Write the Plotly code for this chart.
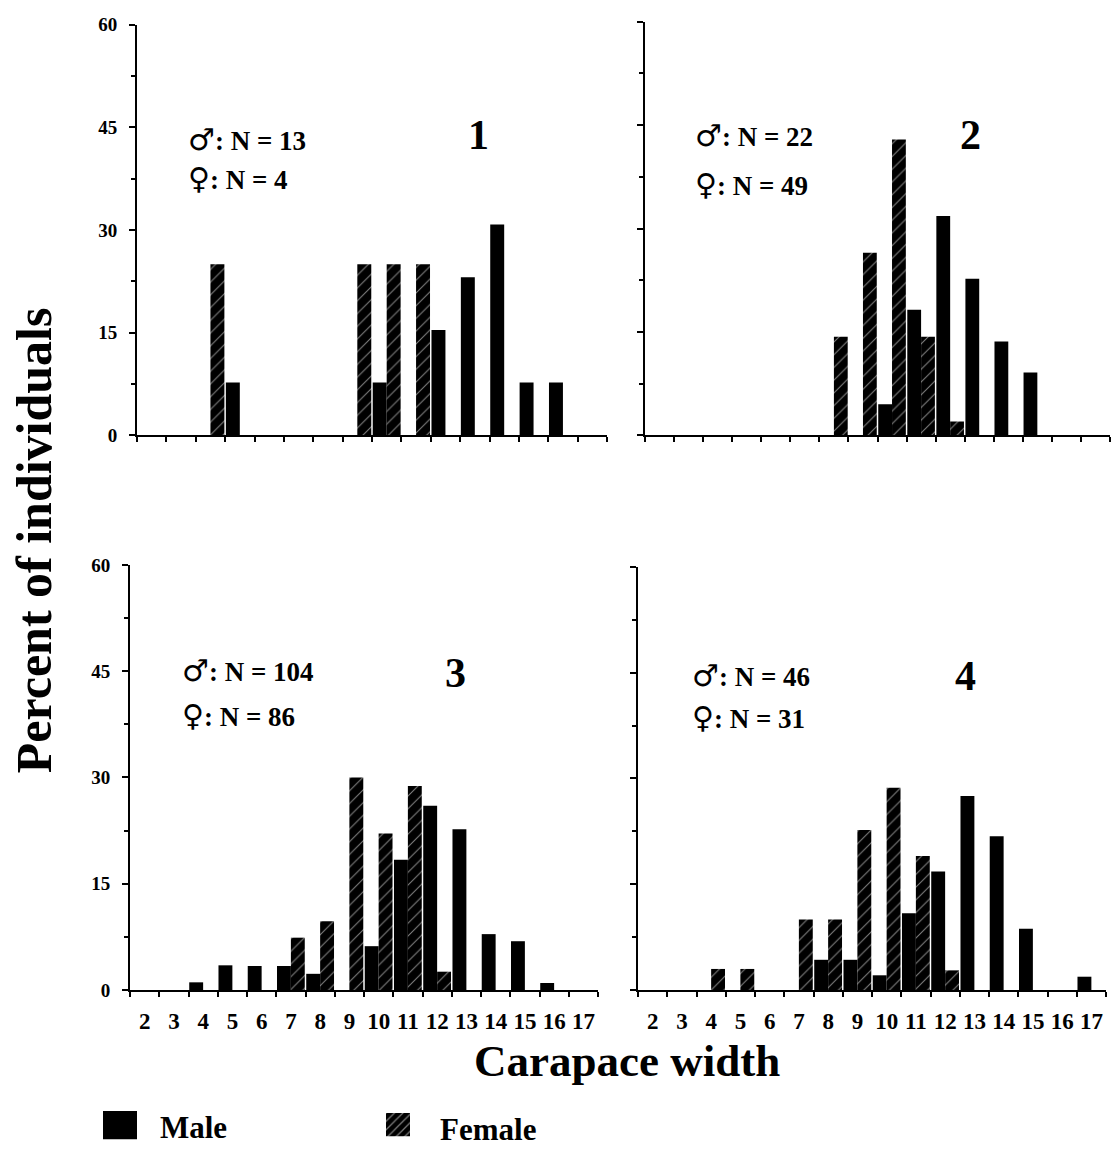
import plotly.graph_objects as go

# Carapace width classes (x categories)
widths = list(range(2, 18))

# Percent of individuals per width class, one list per sample and sex
site1_male   = [0, 0, 0, 7.7, 0, 0, 0, 0, 7.7, 0, 15.4, 23.1, 30.8, 7.7, 7.7, 0]
site1_female = [0, 0, 25.0, 0, 0, 0, 0, 25.0, 25.0, 25.0, 0, 0, 0, 0, 0, 0]

site2_male   = [0, 0, 0, 0, 0, 0, 0, 0, 4.5, 18.2, 31.8, 22.7, 13.6, 9.1, 0, 0]
site2_female = [0, 0, 0, 0, 0, 0, 14.3, 26.5, 42.9, 14.3, 2.0, 0, 0, 0, 0, 0]

site3_male   = [0, 0, 1.1, 3.5, 3.4, 3.4, 2.3, 0, 6.2, 18.4, 26.0, 22.7, 7.9, 6.9, 1.0, 0]
site3_female = [0, 0, 0, 0, 0, 7.4, 9.7, 30.0, 22.1, 28.8, 2.6, 0, 0, 0, 0, 0]

site4_male   = [0, 0, 0, 0, 0, 0, 4.3, 4.3, 2.1, 10.9, 16.8, 27.5, 21.8, 8.7, 0, 1.9]
site4_female = [0, 0, 3.0, 3.0, 0, 10.0, 10.0, 22.7, 28.7, 19.0, 2.8, 0, 0, 0, 0, 0]

panel_labels = ["1", "2", "3", "4"]
male_n = [13, 22, 104, 46]
female_n = [4, 49, 86, 31]

y_ticks = [0, 15, 30, 45, 60]

W, H = 1113, 1172
SERIF = "Liberation Serif"


def px_x(x):
    return x / W


def px_y(y):
    return 1 - y / H


# panel frames in pixels: (left, right, top of 60, baseline)
frames = [
    (137, 607, 15, 433),
    (645, 1110, 12, 433),
    (130, 598, 565, 998),
    (638, 1106, 567, 998),
]

male_series = [site1_male, site2_male, site3_male, site4_male]
female_series = [site1_female, site2_female, site3_female, site4_female]

fig = go.Figure()

female_pattern = dict(shape="/", fillmode="overlay", fgcolor="white",
                      size=9, solidity=0.12)

for i in range(4):
    ax = "" if i == 0 else str(i + 1)
    fig.add_trace(go.Bar(
        x=widths, y=male_series[i], name="Male",
        marker=dict(color="black", line=dict(width=0)),
        xaxis="x" + ax, yaxis="y" + ax, showlegend=False, offsetgroup="m",
    ))
    fig.add_trace(go.Bar(
        x=widths, y=female_series[i], name="Female",
        marker=dict(color="black", line=dict(width=0), pattern=female_pattern),
        xaxis="x" + ax, yaxis="y" + ax, showlegend=False, offsetgroup="f",
    ))

axis_font_y = dict(family=SERIF, size=19, color="black", weight="bold")
axis_font_x = dict(family=SERIF, size=23, color="black", weight="bold")

layout = dict(
    width=W, height=H,
    margin=dict(l=0, r=0, t=0, b=0),
    paper_bgcolor="white", plot_bgcolor="white",
    barmode="group", bargap=0.05, bargroupgap=0.0,
    showlegend=False,
)

for i, (l, r, t, b) in enumerate(frames):
    ax = "" if i == 0 else str(i + 1)
    bottom_row = i >= 2
    left_col = i % 2 == 0
    layout["xaxis" + ax] = dict(
        domain=[px_x(l), px_x(r)], anchor="y" + ax,
        range=[1.5, 17.5], tickmode="array", tickvals=widths,
        ticktext=[str(w) for w in widths],
        showticklabels=bottom_row, ticks="", ticklabelstandoff=9,
        tickfont=axis_font_x,
        minor=dict(tickmode="linear", tick0=1.5, dtick=1, ticks="outside",
                   ticklen=5, tickwidth=2, tickcolor="black"),
        showline=True, linecolor="black", linewidth=2,
        showgrid=False, zeroline=False, fixedrange=True,
    )
    layout["yaxis" + ax] = dict(
        domain=[px_y(b), px_y(t)], anchor="x" + ax,
        range=[0, 60], tickmode="array", tickvals=y_ticks,
        showticklabels=left_col, ticks="outside", ticklen=6, tickwidth=2,
        tickcolor="black", tickfont=axis_font_y, ticklabelstandoff=8,
        minor=dict(tickmode="linear", tick0=7.5, dtick=15, ticks="outside",
                   ticklen=4, tickwidth=2, tickcolor="black"),
        showline=True, linecolor="black", linewidth=2,
        showgrid=False, zeroline=False, fixedrange=True,
    )

# legend key boxes drawn as single bars on hidden axes
key_boxes = [(103, 137, 1121, 1150), (386, 410, 1123, 1147)]
for k, (l, r, t, b) in enumerate(key_boxes):
    ax = str(5 + k)
    layout["xaxis" + ax] = dict(domain=[px_x(l), px_x(r)], anchor="y" + ax,
                                range=[-0.5, 0.5], visible=False, fixedrange=True)
    layout["yaxis" + ax] = dict(domain=[px_y(b), px_y(t)], anchor="x" + ax,
                                range=[0, 1], visible=False, fixedrange=True)
fig.add_trace(go.Bar(x=[0], y=[1], width=[1], marker=dict(color="black", line=dict(width=0)),
                     xaxis="x5", yaxis="y5", showlegend=False, hoverinfo="skip"))
fig.add_trace(go.Bar(x=[0], y=[1], width=[1],
                     marker=dict(color="black", line=dict(width=0),
                                 pattern=dict(shape="/", fillmode="overlay", fgcolor="white",
                                              size=6, solidity=0.2)),
                     xaxis="x6", yaxis="y6", showlegend=False, hoverinfo="skip"))

fig.update_layout(**layout)

annotations = []

SYM = '<span style="font-family:DejaVu Sans; font-size:30px">{}</span>'

# sample sizes and panel numbers
n_pos = [(186, 132, 172, 478, 127), (693, 128, 178, 970, 127),
         (180, 673, 718, 455, 675), (690, 678, 720, 965, 678)]
for i, (x0, y_m, y_f, xn, yn) in enumerate(n_pos):
    annotations.append(dict(
        text=SYM.format("♂") + f"<b>: N = {male_n[i]}</b>", x=px_x(x0), y=px_y(y_m),
        xref="paper", yref="paper", xanchor="left", yanchor="middle",
        showarrow=False, font=dict(family=SERIF, size=27, color="black")))
    annotations.append(dict(
        text=SYM.format("♀") + f"<b>: N = {female_n[i]}</b>", x=px_x(x0), y=px_y(y_f),
        xref="paper", yref="paper", xanchor="left", yanchor="middle",
        showarrow=False, font=dict(family=SERIF, size=27, color="black")))
    annotations.append(dict(
        text=f"<b>{panel_labels[i]}</b>", x=px_x(xn), y=px_y(yn),
        xref="paper", yref="paper", xanchor="center", yanchor="middle",
        showarrow=False, font=dict(family=SERIF, size=42, color="black")))

# shared axis titles
annotations.append(dict(
    text="<b>Percent of individuals</b>", x=px_x(34), y=px_y(540),
    xref="paper", yref="paper", xanchor="center", yanchor="middle",
    textangle=-90, showarrow=False,
    font=dict(family=SERIF, size=50, color="black")))
annotations.append(dict(
    text="<b>Carapace width</b>", x=px_x(627), y=px_y(1070),
    xref="paper", yref="paper", xanchor="center", yanchor="middle",
    showarrow=False, font=dict(family=SERIF, size=45, color="black")))

# legend labels
annotations.append(dict(
    text="<b>Male</b>", x=px_x(158), y=px_y(1138),
    xref="paper", yref="paper", xanchor="left", yanchor="middle",
    showarrow=False, font=dict(family=SERIF, size=31, color="black")))
annotations.append(dict(
    text="<b>Female</b>", x=px_x(438), y=px_y(1140),
    xref="paper", yref="paper", xanchor="left", yanchor="middle",
    showarrow=False, font=dict(family=SERIF, size=31, color="black")))

fig.update_layout(annotations=annotations)

fig.write_html("out.html")
